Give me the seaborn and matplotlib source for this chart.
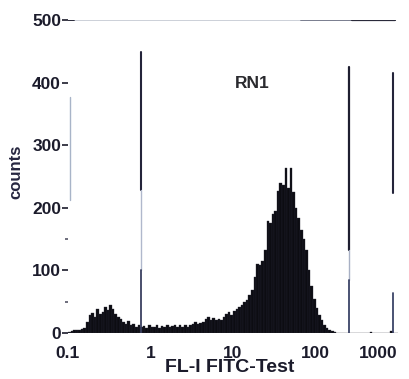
import numpy as np
import pandas as pd
import matplotlib
matplotlib.use("Agg")
import matplotlib.pyplot as plt
import seaborn as sns
from matplotlib.ticker import FixedLocator, NullFormatter

# ---------------- data ----------------
# 128 channels spanning 0.1 .. 1000 (log10 range -1 .. 3, 32 channels per decade)
n_channels = 128
log_range = (-1, 3)
counts = [
    2, 3, 4, 4, 5, 6, 8,
    18, 28, 32, 26, 38, 30, 34, 41, 36, 44, 38, 30, 25, 22, 18, 15, 19, 12, 14, 10, 13, 9,
    11, 8, 12, 9, 10, 13, 8, 11, 10, 12, 9, 11, 13, 10, 12,
    10, 12, 9, 13,
    15, 17, 14, 16, 18,
    22, 25, 20, 24, 21,
    23, 20, 26,
    30, 33, 28, 35,
    38, 42,
    45, 49, 52, 60, 68, 90, 111, 108, 115, 132, 179, 175, 190, 195, 227, 240, 236,
    264, 232, 264, 225, 200, 184, 165, 150, 132, 100, 75, 55, 40, 28, 20, 12, 8, 4, 3, 2,
    0, 0, 0, 0, 0, 0, 0, 0, 0, 0, 0, 0, 0, 2, 0, 0, 0, 0, 0, 0, 0, 3, 0, 0,
]
assert len(counts) == n_channels

x_ticks = [0.1, 1, 10, 100, 1000]
x_tick_labels = ["0.1", "1", "10", "100", "1000"]
y_ticks = [0, 100, 200, 300, 400, 500]
y_tick_labels = ["0", "100", "200", "300", "400", "500"]
y_minor_ticks = [50, 150]
region_label = "RN1"
x_label = "FL-I FITC-Test"
y_label = "counts"

# gate marker lines
gate_x = [0.777, 252, 869]
faint_x = 0.106

# ---------------- figure ----------------
sns.set_style("white")
plt.rcParams["font.family"] = ["Liberation Sans", "DejaVu Sans"]
ink = "#1b1b2b"

fig = plt.figure(figsize=(4.09, 3.79), dpi=100, facecolor="white")
ax = fig.add_axes([68 / 409, 46 / 379, 330 / 409, 313 / 379])
ax.set_facecolor("white")

channel_centres = 10 ** (log_range[0] + (np.arange(n_channels) + 0.5) *
                         (log_range[1] - log_range[0]) / n_channels)
df = pd.DataFrame({"fl1": channel_centres, "count": counts})

sns.histplot(data=df, x="fl1", weights="count", bins=n_channels,
             binrange=log_range, log_scale=True, element="bars",
             fill=True, color="#0c0c12", alpha=1.0, linewidth=0.25,
             edgecolor="#262634", ax=ax)

# top reference line at 500
ax.plot([0.1, 918], [500, 500], color="#c4c8d2", lw=1.2, zorder=1)
ax.plot([67, 918], [500, 500], color="#7a7e90", lw=1.4, zorder=1)
ax.plot([275, 918], [500, 500], color="#2a2a3a", lw=1.6, zorder=1)
ax.plot([0.1, 0.118], [500, 500], color="#2a2a3a", lw=1.4, zorder=1)

# gate markers
g1, g2, g3 = gate_x
ax.plot([g1, g1], [228, 449], color="#24243a", lw=1.5)
ax.plot([g1, g1], [100, 228], color="#b0b8cc", lw=1.0)
ax.plot([g1, g1], [0, 100], color="#3a4060", lw=1.3)
ax.plot([g2, g2], [133, 425], color="#1e1e30", lw=1.6)
ax.plot([g2, g2], [85, 133], color="#a8b0c4", lw=1.0)
ax.plot([g2, g2], [0, 85], color="#3c4468", lw=1.3)
ax.plot([g3, g3], [224, 415], color="#24243a", lw=1.5)
ax.plot([g3, g3], [0, 64], color="#3c4468", lw=1.3)
ax.plot([faint_x, faint_x], [212, 377], color="#a8b4c8", lw=1.0)

ax.text(17, 398, region_label, ha="center", va="center",
        fontsize=12.5, fontweight="bold", color="#2a2a2e")

ax.set_xlim(0.1, 1000)
ax.set_ylim(0, 500)
ax.xaxis.set_major_locator(FixedLocator(x_ticks))
ax.xaxis.set_minor_locator(FixedLocator([]))
ax.set_xticklabels(x_tick_labels)
ax.yaxis.set_major_locator(FixedLocator(y_ticks))
ax.yaxis.set_minor_locator(FixedLocator(y_minor_ticks))
ax.yaxis.set_minor_formatter(NullFormatter())
ax.set_yticklabels(y_tick_labels)

ax.tick_params(axis="x", which="both", length=0, pad=9, labelsize=12.5,
               labelcolor=ink)
ax.tick_params(axis="y", which="major", length=4, width=1.2, color=ink,
               pad=1, labelsize=12.5, labelcolor=ink, left=True)
ax.tick_params(axis="y", which="minor", length=2, width=1.2, color="#555566",
               left=True)
for lab in ax.get_xticklabels() + ax.get_yticklabels():
    lab.set_fontweight("bold")
ax.get_xticklabels()[-1].set_horizontalalignment("right")

for s in ax.spines.values():
    s.set_visible(False)

ax.set_xlabel(x_label, fontsize=14, fontweight="bold", color=ink)
ax.set_ylabel(y_label, fontsize=12, fontweight="bold", color="#262640")
ax.xaxis.set_label_coords(0.49, -0.083)
ax.yaxis.set_label_coords(-0.135, 0.514)
ax.grid(False)

fig.savefig("out.png", dpi=100, facecolor="white")
